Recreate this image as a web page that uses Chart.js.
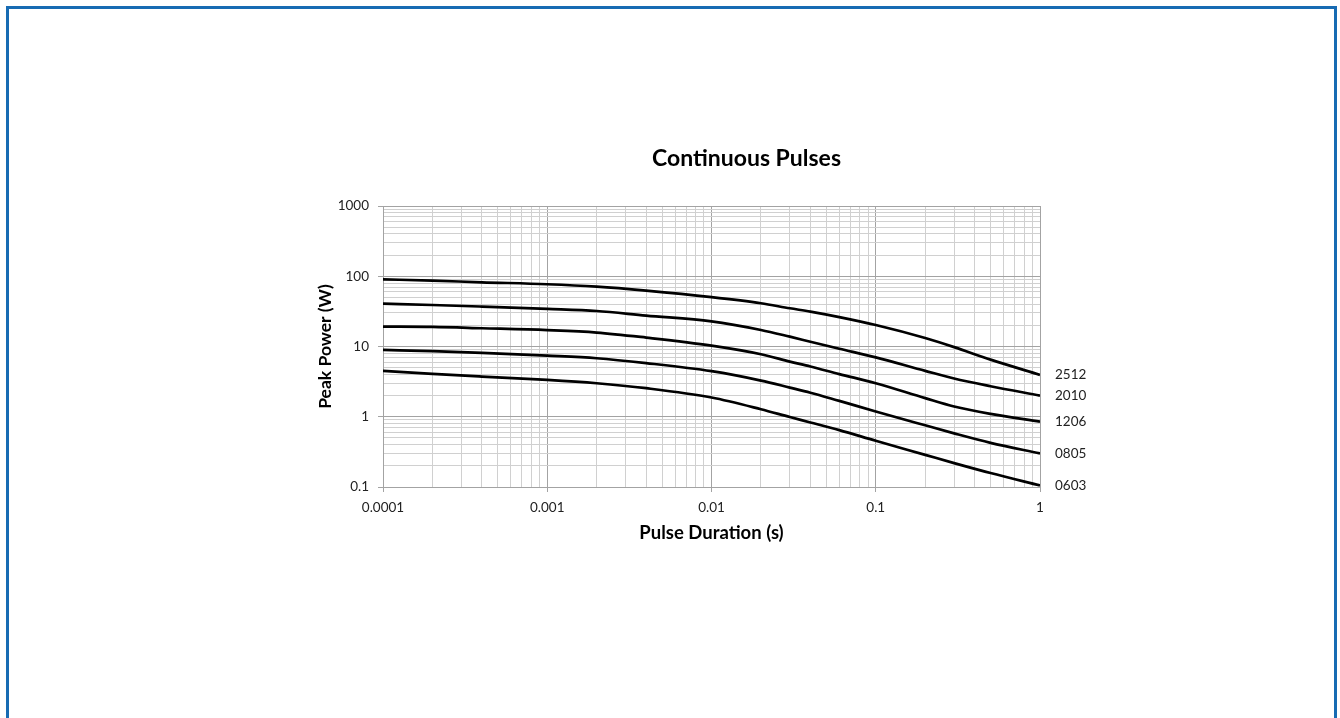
<!DOCTYPE html>
<html>
<head>
<meta charset="utf-8">
<script src="https://cdn.jsdelivr.net/npm/chart.js@4"></script>
<style>
  html, body { margin: 0; padding: 0; background: #fff; }
  body { width: 1340px; height: 718px; position: relative; overflow: hidden; }
  #frame {
    position: absolute; left: 6px; top: 6px; width: 1325px; height: 730px;
    border: 3px solid #176bb3; border-bottom: none;
  }
  #wrap { position: absolute; left: 290px; top: 130px; width: 912px; height: 430px; }
</style>
</head>
<body>
<div id="frame"></div>
<div id="wrap"><canvas id="pulseChart"></canvas></div>
<script>
// pulse duration (s)
let durations = [0.0001, 0.0002, 0.0004, 0.001, 0.002, 0.004, 0.01, 0.02, 0.03, 0.04, 0.06, 0.1, 0.2, 0.3, 0.5, 1]

// peak power (W) per package size
let p2512 = [90.5, 86.6, 82, 77, 71, 62.4, 50.5, 41.3, 35, 31.4, 26.2, 20.2, 13.2, 9.8, 6.5, 3.95]
let p2010 = [40.7, 39, 37, 34.3, 32, 27.5, 22.8, 17.2, 13.8, 11.7, 9.3, 7.0, 4.5, 3.5, 2.72, 2.0]
let p1206 = [19.2, 19.0, 18.2, 17.1, 15.8, 13.4, 10.3, 7.77, 6.1, 5.2, 4.05, 3.0, 1.84, 1.40, 1.10, 0.85]
let p0805 = [8.95, 8.57, 8.1, 7.4, 6.8, 5.8, 4.45, 3.27, 2.6, 2.2, 1.68, 1.19, 0.755, 0.58, 0.425, 0.30]
let p0603 = [4.5, 4.07, 3.73, 3.35, 3.0, 2.55, 1.88, 1.28, 0.99, 0.83, 0.645, 0.455, 0.287, 0.219, 0.158, 0.105]

let seriesNames = ["2512", "2010", "1206", "0805", "0603"]
let seriesValues = [p2512, p2010, p1206, p0805, p0603]

let chartTitle = "Continuous Pulses"

// gridline steps inside each decade
let decadeSteps = [1, 2, 3, 4, 5, 6, 7, 8, 9]
let xDecades = [-4, -3, -2, -1]
let yDecades = [-1, 0, 1, 2]

function logTicks(decades) {
  const out = [];
  decades.forEach((e) => {
    decadeSteps.forEach((m) => {
      out.push({ value: Number((m * Math.pow(10, e)).toPrecision(6)) });
    });
  });
  const last = decades[decades.length - 1] + 1;
  out.push({ value: Number(Math.pow(10, last).toPrecision(6)) });
  return out;
}

function isPow10(v) {
  const l = Math.log10(v);
  return Math.abs(l - Math.round(l)) < 1e-9;
}

const tickFont = { family: "Lato", size: 13.5 };
const gridColor = (ctx) => (ctx.tick && isPow10(ctx.tick.value) ? "#a3a3a3" : "#d0d0d0");
const tickMarkColor = (ctx) => (ctx.tick && isPow10(ctx.tick.value) ? "#a3a3a3" : "rgba(0,0,0,0)");

const datasets = seriesValues.map((vals, i) => {
  return {
    label: seriesNames[i],
    data: durations.map((d, j) => ({ x: d, y: vals[j] })),
    borderColor: "#000",
    borderWidth: 2.7,
    pointRadius: 0,
    cubicInterpolationMode: "monotone",
    fill: false,
  };
});

// series names at the right end of each curve, and the chart title
const textBits = {
  id: "textBits",
  afterDatasetsDraw(chart) {
    const { ctx, chartArea } = chart;
    ctx.save();
    ctx.font = "13.5px Lato";
    ctx.fillStyle = "#222";
    ctx.textAlign = "left";
    ctx.textBaseline = "middle";
    chart.data.datasets.forEach((ds, i) => {
      const pts = chart.getDatasetMeta(i).data;
      const last = pts[pts.length - 1];
      ctx.fillText(ds.label, chartArea.right + 15, last.y);
    });
    ctx.font = "bold 23px Lato";
    ctx.fillStyle = "#000";
    ctx.textAlign = "center";
    ctx.fillText(chartTitle, (chartArea.left + chartArea.right) / 2 + 35, chartArea.top - 47);
    ctx.restore();
  },
};

const config = {
  type: "line",
  data: { datasets },
  plugins: [textBits],
  options: {
    responsive: true,
    maintainAspectRatio: false,
    animation: false,
    layout: { padding: { left: 0, right: 162, top: 76, bottom: 0 } },
    plugins: {
      legend: { display: false },
      tooltip: { enabled: false },
      title: { display: false },
    },
    scales: {
      x: {
        type: "logarithmic",
        min: 0.0001,
        max: 1,
        afterBuildTicks(scale) { scale.ticks = logTicks(xDecades); },
        afterFit(scale) { scale.height = 73; },
        grid: { color: gridColor, tickColor: tickMarkColor, tickLength: 5 },
        border: { color: "#a3a3a3" },
        ticks: {
          autoSkip: false,
          maxRotation: 0,
          padding: 8,
          color: "#222",
          font: tickFont,
          callback: (v) => (isPow10(v) ? String(v) : ""),
        },
        title: {
          display: true,
          text: "Pulse Duration (s)",
          color: "#000",
          font: { family: "Lato", size: 18.5, weight: "bold" },
          padding: { top: 0, bottom: 16 },
        },
      },
      y: {
        type: "logarithmic",
        min: 0.1,
        max: 1000,
        afterBuildTicks(scale) { scale.ticks = logTicks(yDecades); },
        afterFit(scale) { scale.width = 93; },
        grid: { color: gridColor, tickColor: tickMarkColor, tickLength: 5 },
        border: { color: "#a3a3a3" },
        ticks: {
          autoSkip: false,
          padding: 9,
          color: "#222",
          font: tickFont,
          callback: (v) => (isPow10(v) ? String(v) : ""),
        },
        title: {
          display: true,
          text: "Peak Power (W)",
          color: "#000",
          font: { family: "Lato", size: 17.5, weight: "bold" },
          padding: { top: 25, bottom: 0 },
        },
      },
    },
  },
};

new Chart(document.getElementById("pulseChart"), config);
</script>
</body>
</html>
